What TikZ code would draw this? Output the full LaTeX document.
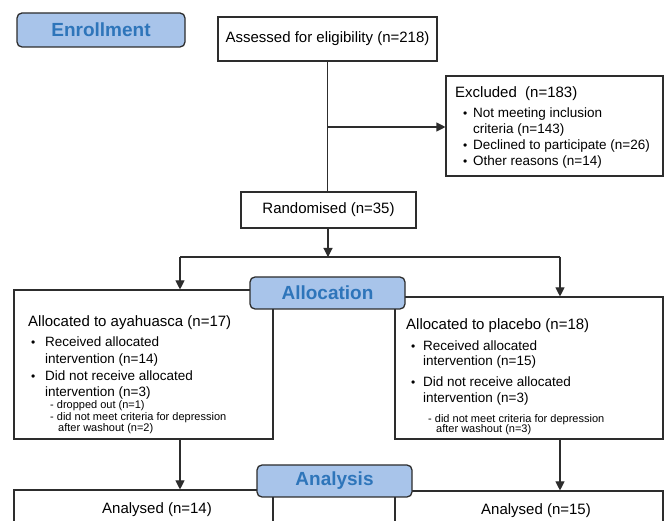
\documentclass[tikz,border=0pt]{standalone}
\usepackage{fontspec}
\setmainfont{Liberation Sans}
\usetikzlibrary{arrows.meta}
\definecolor{stagefill}{RGB}{168,196,234}
\definecolor{stagetext}{RGB}{46,117,186}
\definecolor{edge}{RGB}{45,45,45}
\newcommand{\itm}[1][12pt]{\makebox[#1][l]{\fontsize{12}{12}\selectfont\textbullet}}

\begin{document}
\begin{tikzpicture}[
  x=1pt, y=-1pt,
  block/.style={rectangle, draw=edge, line width=1.1pt, fill=white, inner sep=0pt, font=\fontsize{15}{18}\selectfont},
  stage/.style={rectangle, rounded corners=5pt, draw=edge, line width=1.3pt, fill=stagefill, text=stagetext, inner sep=0pt, minimum width=155pt, minimum height=32pt, font=\fontsize{19}{22}\selectfont\bfseries},
  head/.style={anchor=base west, inner sep=0pt, font=\fontsize{15}{18}\selectfont},
  item/.style={anchor=base west, inner sep=0pt, font=\fontsize{13.5}{16}\selectfont},
  sub/.style={anchor=base west, inner sep=0pt, font=\fontsize{11}{13}\selectfont},
  arr/.style={-{Triangle[length=9pt,width=9pt]}, line width=1.1pt, draw=edge},
  link/.style={line width=1.1pt, draw=edge}
]
\clip (0,0) rectangle (665,521);
\fill[white] (0,0) rectangle (665,521);

% Boxes
\node[block, minimum width=219pt, minimum height=44pt] (assess) at (327.5,39) {Assessed for eligibility (n=218)};
\node[block, minimum width=217pt, minimum height=100pt] (excl) at (554.5,126) {};
\node[block, minimum width=175pt, minimum height=36pt] (rand) at (328.5,210) {Randomised (n=35)};
\node[block, minimum width=259pt, minimum height=149pt] (ayah) at (143.5,364.5) {};
\node[block, minimum width=268pt, minimum height=142pt] (plac) at (529,368) {};
\node[block, minimum width=259pt, minimum height=50pt] (anaL) at (143.5,515) {};
\node[block, minimum width=268pt, minimum height=50pt] (anaR) at (529,516) {};

\coordinate (branch) at (328,127);
\coordinate (split) at (328,257);
\coordinate (splitL) at (180,257);
\coordinate (splitR) at (560,257);

% Flow
\draw[link] (assess.south) -- (assess.south |- rand.north);
\draw[arr] (branch) -- (branch -| excl.west);
\draw[arr] (rand.south -| split) -- (split);
\draw[link] (splitL) -- (splitR);
\draw[arr] (splitL) -- (splitL |- ayah.north);
\draw[arr] (splitR) -- (splitR |- plac.north);
\draw[arr] (ayah.south -| splitL) -- (splitL |- anaL.north);
\draw[arr] (plac.south -| splitR) -- (splitR |- anaR.north);

% Excluded
\node[head] (excl-h) at (455,98) {Excluded~~(n=183)};
\node[item] (excl-1) at (463,118) {\itm[10pt]Not meeting inclusion};
\node[item] (excl-1b) at (473,134) {criteria (n=143)};
\node[item] (excl-2) at (463,150) {\itm[10pt]Declined to participate (n=26)};
\node[item] (excl-3) at (463,166) {\itm[10pt]Other reasons (n=14)};

% Ayahuasca arm
\node[head] (ayah-h) at (28,327) {Allocated to ayahuasca (n=17)};
\node[item] (ayah-1) at (31,347) {\itm[14pt]Received allocated};
\node[item] (ayah-1b) at (45,364) {intervention (n=14)};
\node[item] (ayah-2) at (31,381) {\itm[14pt]Did not receive allocated};
\node[item] (ayah-2b) at (45,397) {intervention (n=3)};
\node[sub] (ayah-3) at (50,409) {- dropped out (n=1)};
\node[sub] (ayah-4) at (50,421) {- did not meet criteria for depression};
\node[sub] (ayah-4b) at (58,432) {after washout (n=2)};

% Placebo arm
\node[head] (plac-h) at (406,330) {Allocated to placebo (n=18)};
\node[item] (plac-1) at (411,351) {\itm Received allocated};
\node[item] (plac-1b) at (423,366) {intervention (n=15)};
\node[item] (plac-2) at (411,387) {\itm Did not receive allocated};
\node[item] (plac-2b) at (423,403) {intervention (n=3)};
\node[sub] (plac-3) at (428,423) {- did not meet criteria for depression};
\node[sub] (plac-3b) at (436,433) {after washout (n=3)};

% Analysis
\node[head, anchor=base] (anaL-t) at (157,514) {Analysed (n=14)};
\node[head, anchor=base] (anaR-t) at (536,515) {Analysed (n=15)};

% Stage labels
\node[stage, minimum width=168pt, minimum height=34pt] (enroll) at (101,30) {Enrollment};
\node[stage] (alloc) at (327.5,293) {Allocation};
\node[stage] (analysis) at (334.5,481) {Analysis};
\end{tikzpicture}
\end{document}
